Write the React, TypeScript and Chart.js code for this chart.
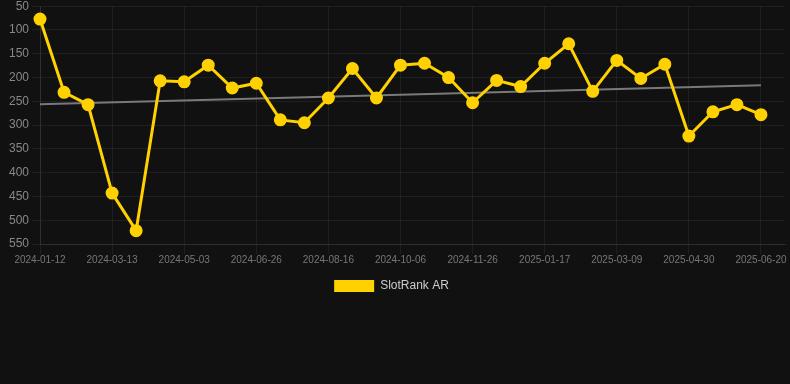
import React, { useEffect, useRef } from "react";
import { Chart, registerables } from "chart.js";

Chart.register(...registerables);

const categories: string[] = [
  "2024-01-12", "2024-02-01", "2024-02-21", "2024-03-13", "2024-03-30", "2024-04-16",
  "2024-05-03", "2024-05-21", "2024-06-08", "2024-06-26", "2024-07-13", "2024-07-30",
  "2024-08-16", "2024-09-02", "2024-09-19", "2024-10-06", "2024-10-23", "2024-11-09",
  "2024-11-26", "2024-12-13", "2024-12-31", "2025-01-17", "2025-02-03", "2025-02-20",
  "2025-03-09", "2025-03-26", "2025-04-13", "2025-04-30", "2025-05-17", "2025-06-03",
  "2025-06-20", "2025-07-07",
];

const rankValues: (number | null)[] = [
  77, 231, 257, 443, 522, 207, 209, 174, 222, 212, 289, 295,
  243, 181, 243, 174, 170, 200, 253, 206, 219, 170, 129, 229,
  164, 202, 172, 323, 272, 257, 278, null,
];

const trendStart = 256;
const trendEnd = 216;
const trendValues: (number | null)[] = categories.map((_, i) =>
  i === 0 ? trendStart : i === 30 ? trendEnd : null
);

const yTicks = { min: 50, max: 550, step: 50 };

export default function App() {
  const ref = useRef<HTMLCanvasElement | null>(null);

  useEffect(() => {
    document.body.style.margin = "0";
    document.body.style.background = "#111111";
    const ctx = ref.current;
    if (!ctx) return;
    Chart.defaults.font.family = "Arial, 'Liberation Sans', sans-serif";
    const defaultGen = Chart.defaults.plugins.legend.labels.generateLabels;
    const chart = new Chart(ctx, {
      type: "line",
      data: {
        labels: categories,
        datasets: [
          {
            label: "SlotRank AR",
            data: rankValues,
            borderColor: "#FFD100",
            backgroundColor: "#FFD100",
            borderWidth: 3,
            pointRadius: 5,
            pointHoverRadius: 5,
            pointBackgroundColor: "#FFD100",
            pointBorderColor: "#FFD100",
            tension: 0,
          },
          {
            label: "trend",
            data: trendValues,
            borderColor: "rgba(140,140,140,0.85)",
            backgroundColor: "rgba(140,140,140,0.85)",
            borderWidth: 2,
            pointRadius: 0,
            spanGaps: true,
          },
        ],
      },
      options: {
        animation: false,
        responsive: false,
        layout: { padding: 0 },
        plugins: {
          legend: {
            position: "bottom",
            labels: {
              color: "#cccccc",
              boxWidth: 40,
              boxHeight: 12,
              font: { size: 12 },
              filter: (item) => item.text !== "trend",
              generateLabels: (c) =>
                defaultGen(c).map((it) => ({ ...it, lineWidth: 0 })),
            },
          },
          tooltip: { enabled: false },
        },
        scales: {
          x: {
            afterFit: (s) => {
              s.height += 4;
            },
            grid: { color: "rgba(255,255,255,0.06)", tickLength: 10 },
            border: { color: "rgba(255,255,255,0.08)" },
            ticks: {
              color: "#777777",
              font: { size: 10 },
              maxRotation: 0,
              autoSkip: true,
              padding: 0,
            },
          },
          y: {
            reverse: true,
            min: yTicks.min,
            max: yTicks.max,
            afterFit: (s) => {
              s.width = 50;
            },
            grid: { color: "rgba(255,255,255,0.06)", tickLength: 8 },
            border: { color: "rgba(255,255,255,0.08)" },
            ticks: { color: "#888888", font: { size: 12 }, stepSize: yTicks.step },
          },
        },
      },
    });
    return () => chart.destroy();
  }, []);

  return (
    <div style={{ width: 790, height: 384, background: "#111111", overflow: "hidden" }}>
      <canvas
        ref={ref}
        width={803}
        height={306}
        style={{ display: "block", marginLeft: -10, marginTop: -4 }}
      />
    </div>
  );
}
